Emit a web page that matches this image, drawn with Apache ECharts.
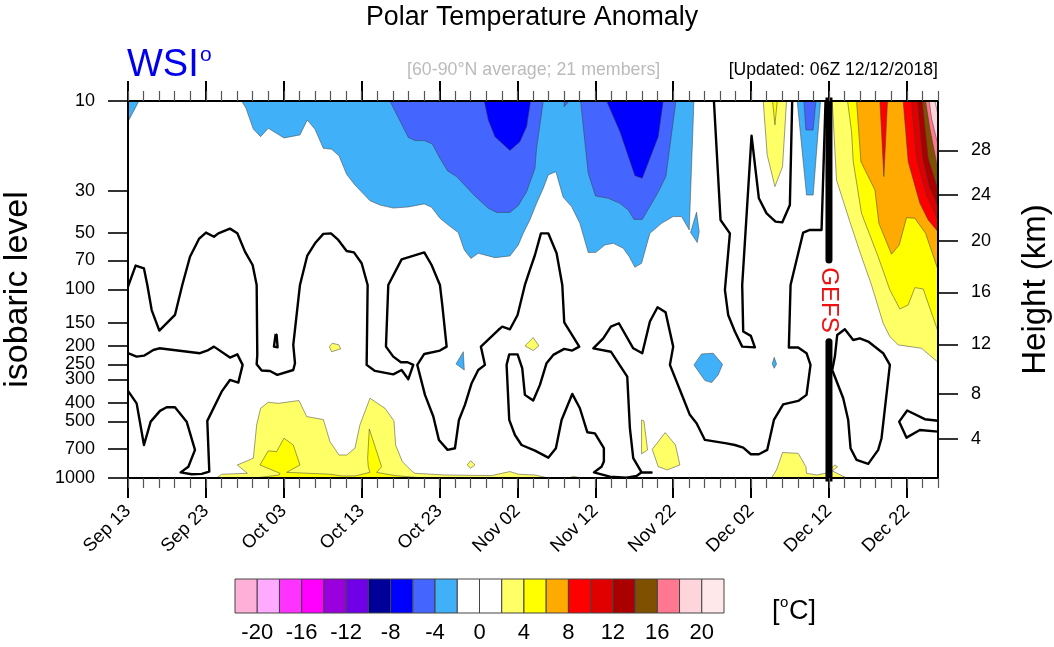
<!DOCTYPE html>
<html><head><meta charset="utf-8">
<style>html,body{margin:0;padding:0;background:#fff}#c{width:1054px;height:647px}</style>
<script src="https://cdn.jsdelivr.net/npm/echarts@6/dist/echarts.min.js"></script>
</head><body><div id="c"></div>
<script>
// x = days since Sep 13 2018, y = log10(pressure hPa)
const dayTicks = [0,10,20,30,40,50,60,70,80,90,100];
const dayTickLabels = ['Sep 13','Sep 23','Oct 03','Oct 13','Oct 23','Nov 02','Nov 12','Nov 22','Dec 02','Dec 12','Dec 22'];
const pressureLevels = [10,30,50,70,100,150,200,250,300,400,500,700,850,1000];
const heightKm = [28,24,20,16,12,8,4];
const heightHpa = [18.3,31.5,55.3,103.5,195.4,358,621];
const legendLows = [-22,-20,-18,-16,-14,-12,-10,-8,-6,-4,-2,0,2,4,6,8,10,12,14,16,18,20];
const legendColors = ['#ffb0d8','#ffaaff','#ff33ff','#ff00ff','#9900dd','#7000e8','#000099','#0000ff','#4466ff','#40b0f8','#ffffff','#ffffff','#ffff66','#ffff00','#ffaa00','#ff0000','#e00000','#aa0000','#7f5000','#ff7890','#ffd5dc','#ffe8ea'];
const legendLabels = [-20,-16,-12,-8,-4,0,4,8,12,16,20];

const coldEdge = [[0,1],[1.41,1],[0,1.110]];
const coldMain = [[14.59,1],[15.15,1.039],[16.09,1.149],[17.03,1.189],[18.01,1.145],[20.03,1.196],[22.08,1.180],[23.02,1.101],[24.01,1.150],[25.08,1.251],[26.14,1.256],[27.09,1.290],[28.07,1.389],[29.14,1.446],[31.07,1.529],[32.35,1.552],[34.06,1.568],[35.99,1.562],[38.04,1.546],[38.98,1.564],[40.05,1.622],[41.12,1.658],[42.40,1.698],[43.18,1.790],[44.03,1.835],[44.97,1.808],[47.11,1.831],[49.04,1.822],[50.11,1.764],[50.75,1.702],[51.60,1.631],[52.46,1.543],[53.32,1.463],[53.96,1.392],[54.94,1.375],[55.88,1.511],[56.95,1.560],[58.02,1.649],[59.09,1.804],[60.08,1.803],[61.23,1.764],[62.30,1.755],[63.59,1.781],[64.36,1.826],[65.08,1.882],[65.94,1.861],[67.01,1.702],[68.51,1.649],[70.0,1.613],[71.07,1.613],[72.06,1.684],[72.66,1]];
const coldFinger = [[73.0,1.590],[72.23,1.697],[73.09,1.751],[73.34,1.693]];
const coldDec = [[85.92,1],[87.12,1.499],[87.97,1.499],[88.92,1]];
const coldBlobOct = [[43.05,2.330],[42.11,2.395],[43.18,2.427]];
const coldBlobNov = [[73.64,2.342],[75.14,2.338],[76.34,2.397],[75.78,2.453],[74.93,2.494],[74.07,2.483],[72.66,2.400]];
const coldBlobDec = [[82.97,2.360],[82.71,2.395],[82.97,2.418],[83.27,2.395]];
const cool1 = [[33.63,1],[35.99,1.193],[36.84,1.210],[38.04,1.210],[39.07,1.228],[40.05,1.304],[41.04,1.371],[42.19,1.401],[44.54,1.504],[46.26,1.569],[47.33,1.591],[49.04,1.591],[50.11,1.555],[51.18,1.481],[52.25,1.357],[52.46,1.251],[53.32,1]];
const cool2 = [[58.11,1],[59.09,1.384],[60.03,1.504],[61.66,1.516],[63.16,1.543],[64.23,1.578],[64.96,1.628],[66.03,1.628],[67.99,1.490],[69.06,1.401],[70.35,1]];
const coolNotch = [[56.0,1],[56.0,1.03],[56.65,1]];
const coolDec = [[86.78,1],[87.04,1.154],[87.97,1.154],[88.32,1]];
const deep1 = [[45.74,1],[46.26,1.101],[47.11,1.189],[49.04,1.263],[50.32,1.216],[51.18,1.136],[51.69,1]];
const deep2 = [[61.45,1],[63.16,1.163],[65.08,1.396],[66.03,1.410],[68.08,1.189],[68.72,1]];
const warmAutumn = [[11.38,3],[12.02,2.980],[15.32,2.975],[14.04,2.931],[16.09,2.895],[16.52,2.718],[17.03,2.630],[18.01,2.598],[19.30,2.604],[21.95,2.589],[22.94,2.674],[25.08,2.690],[25.29,2.718],[25.93,2.807],[27.09,2.878],[28.07,2.878],[29.14,2.842],[29.78,2.718],[31.07,2.577],[32.99,2.630],[34.15,2.697],[34.36,2.825],[35.22,2.913],[36.50,2.966],[36.84,2.975],[40.69,2.984],[46.68,2.987],[49.04,2.966],[50.11,2.980],[52.25,2.984],[53.74,2.998],[53.74,3]];
const warmDot1 = [[26.23,2.285],[27.09,2.294],[27.30,2.315],[26.14,2.330],[25.85,2.303]];
const warmDot2 = [[52.03,2.255],[52.76,2.299],[52.03,2.324],[50.96,2.299]];
const warmDot3 = [[43.99,2.908],[44.54,2.931],[43.99,2.948],[43.56,2.931]];
const warmDot4 = [[56.53,3],[57.17,2.991],[58.24,3]];
const warmSliver = [[65.94,2.692],[66.24,2.697],[66.71,2.851],[65.94,2.872]];
const warmPatch = [[68.98,2.759],[70.30,2.825],[70.86,2.931],[69.23,2.957],[68.08,2.940],[67.31,2.848]];
const warmDecTop = [[81.56,1],[82.07,1.286],[83.06,1.454],[84.04,1.348],[84.55,1]];
const warmDecLow = [[82.63,3],[83.27,2.957],[84.04,2.865],[86.05,2.869],[87.04,2.940],[87.12,2.975],[88.40,2.984],[89.56,2.975],[90.76,2.931],[91.10,2.940],[90.42,2.962],[92.25,3]];
const warmRight = [[90.42,1],[90.97,1.419],[92.68,1.640],[94.18,1.826],[95.46,1.976],[96.96,2.179],[97.82,2.250],[98.89,2.294],[101.88,2.312],[104,2.386],[104,1]];
const hotAutumn = [[16.30,3],[19.43,2.984],[19.51,2.975],[16.94,2.931],[18.01,2.856],[19.08,2.860],[20.03,2.789],[21.22,2.825],[22.08,2.931],[20.37,2.970],[25.93,2.980],[27.43,2.989],[29.14,2.989],[31.07,2.970],[30.85,2.940],[30.77,2.895],[30.98,2.740],[32.56,2.940],[31.92,2.970],[34.27,2.987],[37.91,3]];
const hotDecTop = [[82.76,1],[83.06,1.127],[83.36,1]];
const hotRight = [[92.39,1],[92.90,1.163],[93.12,1.322],[94.18,1.596],[96.32,1.826],[97.82,2.002],[99.10,2.103],[100.17,2.082],[101.03,1.990],[102.10,1.997],[104,2.223],[104,1]];
const orangeRight = [[93.54,1],[94.10,1.322],[95.90,1.472],[96.41,1.649],[98.03,1.813],[99.02,1.764],[99.96,1.619],[101.03,1.622],[102.40,1.702],[104,1.896],[104,1]];
const redSpike = [[96.54,1],[97.05,1.401],[97.52,1]];
const redRight = [[99.53,1],[100.17,1.322],[101.67,1.543],[102.74,1.631],[104,1.693],[104,1]];
const red10 = [[100.6,1],[101.24,1.304],[102.52,1.499],[104,1.631],[104,1]];
const red12 = [[101.37,1],[102.01,1.304],[102.95,1.463],[104,1.560],[104,1]];
const brown14 = [[101.97,1],[102.74,1.304],[104,1.472],[104,1]];
const pink16 = [[102.40,1],[102.95,1.145],[104,1.366],[104,1]];
const pink18 = [[102.87,1],[103.17,1.092],[104,1.233],[104,1]];
const pink20 = [[103.60,1],[104,1.074],[104,1]];

const zeroMain = [[0,1.985],[0.98,1.873],[2.05,1.888],[2.48,1.976],[3.04,2.109],[4.02,2.218],[6.03,2.135],[6.97,1.976],[7.96,1.826],[9.11,1.732],[10.01,1.698],[11.04,1.720],[11.60,1.702],[13.09,1.677],[14.04,1.702],[15.02,1.799],[16.00,1.870],[16.52,1.976],[16.60,2.347],[16.52,2.397],[17.16,2.430],[18.23,2.432],[19.17,2.453],[21.22,2.427],[21.44,2.391],[21.22,2.294],[22.08,1.976],[23.02,1.820],[24.01,1.755],[25.08,1.705],[26.06,1.702],[27.00,1.737],[28.07,1.796],[29.01,1.803],[30.00,1.861],[30.77,1.976],[30.64,2.400],[31.71,2.432],[34.06,2.450],[35.13,2.427],[35.99,2.476],[36.63,2.400],[35.90,2.386],[35.04,2.386],[34.06,2.356],[33.12,2.303],[33.42,1.976],[35.13,1.840],[38.04,1.803],[38.98,1.870],[40.05,1.976],[40.35,2.082],[40.91,2.303],[40.05,2.324],[38.04,2.342],[37.14,2.400],[38.13,2.559],[39.20,2.674],[39.92,2.798],[41.04,2.851],[41.98,2.842],[42.49,2.692],[43.26,2.612],[44.12,2.497],[44.97,2.427],[45.83,2.400],[45.31,2.303],[47.54,2.215],[48.05,2.197],[49.04,2.211],[50.02,2.135],[50.96,1.976],[51.60,1.896],[52.25,1.817],[53.02,1.702],[53.96,1.702],[55.03,1.808],[55.76,1.976],[56.01,2.174],[57.94,2.303],[57.04,2.324],[56.01,2.315],[54.60,2.347],[53.74,2.391],[52.89,2.506],[52.03,2.589],[51.60,2.577],[50.96,2.559],[50.62,2.418],[50.02,2.344],[48.95,2.344],[48.61,2.400],[48.95,2.692],[49.68,2.772],[50.53,2.825],[52.25,2.855],[53.96,2.892],[54.94,2.842],[55.67,2.692],[57.04,2.554],[58.02,2.630],[58.97,2.757],[59.95,2.763],[61.10,2.842],[61.10,2.913],[60.80,2.940],[59.82,2.970],[61.87,2.993],[64.01,2.998],[65.30,2.989],[65.94,2.970],[67.22,2.971],[65.94,2.970],[64.87,2.895],[64.44,2.736],[64.10,2.462],[62.00,2.330],[59.74,2.312],[59.61,2.303],[61.02,2.259],[62.00,2.197],[63.03,2.179],[64.87,2.312],[66.03,2.338],[67.01,2.170],[67.99,2.094],[69.02,2.121],[70.00,2.303],[69.58,2.400],[71.29,2.577],[72.14,2.665],[73.00,2.710],[74.07,2.798],[76.85,2.816],[77.92,2.825],[78.99,2.839],[79.97,2.874],[81.00,2.874],[82.07,2.851],[82.93,2.692],[84.12,2.609],[86.05,2.591],[87.12,2.559],[87.63,2.400],[87.12,2.338],[86.05,2.308],[84.85,2.308],[85.07,1.976],[86.69,1.698],[87.55,1.684],[89.05,1.684],[89.56,1]];
const zeroLowLeft = [[0,2.338],[1.11,2.356],[2.05,2.351],[3.25,2.321],[4.02,2.312],[9.24,2.338],[10.31,2.321],[11.04,2.303],[13.09,2.361],[14.04,2.344],[14.72,2.400],[14.16,2.494],[13.09,2.480],[12.02,2.542],[10.18,2.697],[10.44,2.966],[9.46,2.978],[8.17,2.980],[6.76,2.970],[7.75,2.940],[8.60,2.851],[7.53,2.701],[6.03,2.625],[4.96,2.625],[4.11,2.644],[2.91,2.701],[2.05,2.825],[1.11,2.604],[0,2.538]];
const zeroDrop = [[18.96,2.236],[18.74,2.303],[18.96,2.312],[19.21,2.307],[19.08,2.241],[18.96,2.236]];
const zeroDec = [[75.23,1],[76.08,1.631],[77.28,1.702],[76.64,2.002],[77.06,2.135],[77.92,2.223],[78.86,2.303],[80.49,2.307],[79.97,2.246],[78.99,2.223],[78.86,1.976],[80.06,1.184],[81.00,1.516],[81.99,1.596],[83.14,1.640],[84.0,1.644],[84.98,1.552],[85.28,1]];
const zeroLoop = [[90.42,2.427],[90.76,2.356],[91.06,2.241],[92.04,2.211],[93.11,2.268],[93.97,2.259],[95.04,2.276],[96.96,2.338],[97.82,2.400],[96.75,2.789],[96.32,2.851],[95.04,2.925],[93.54,2.904],[92.77,2.842],[92.47,2.692],[91.83,2.577],[90.42,2.427]];
const zeroEnd = [[104,2.696],[102.31,2.688],[100.04,2.642],[99.02,2.701],[99.96,2.786],[101.67,2.745],[104,2.754]];
const gefsTop = [[90,0.9],[90,1.843]];
const gefsBottom = [[90,2.277],[90,3.1]];

const band = lo => legendColors[legendLows.indexOf(lo)];
const fills = [
  [-4,coldEdge],[-4,coldMain],[-4,coldFinger],[-4,coldDec],[-4,coldBlobOct],[-4,coldBlobNov],[-4,coldBlobDec],
  [-6,cool1],[-6,cool2],[-6,coolNotch],[-6,coolDec],[-8,deep1],[-8,deep2],
  [2,warmAutumn],[2,warmDot1],[2,warmDot2],[2,warmDot3],[2,warmDot4],[2,warmSliver],[2,warmPatch],[2,warmDecTop],[2,warmDecLow],[2,warmRight],
  [4,hotAutumn],[4,hotDecTop],[4,hotRight],[6,orangeRight],[8,redSpike],[8,redRight],[10,red10],[12,red12],[14,brown14],[16,pink16],[18,pink18],[20,pink20]
];
const zeroLines = [zeroMain,zeroLowLeft,zeroDrop,zeroDec,zeroLoop,zeroEnd];

const FONT = '"Liberation Sans", Arial, sans-serif';
const lg = v => Math.log10(v);
const txt = (text,x,y,size,fill,extra) => ({type:'text',z:20,silent:true,x,y,style:Object.assign({text,fontSize:size,fontFamily:FONT,fill,textAlign:'left',textVerticalAlign:'middle'},extra||{})});
const baseX = {type:'value',gridIndex:0,min:0,max:104,splitLine:{show:false},z:10,
  axisLine:{onZero:false,lineStyle:{color:'#000',width:2}},axisLabel:{show:false}};
const yBase = {type:'value',gridIndex:0,min:1,max:3,inverse:true,splitLine:{show:false},z:10,
  axisLine:{onZero:false,lineStyle:{color:'#000',width:2}}};
const majorTick = {show:true,length:20,customValues:dayTicks,lineStyle:{color:'#000',width:2}};
const minorTick = {show:true,length:10,lineStyle:{color:'#555',width:1.2}};

const chart = echarts.init(document.getElementById('c'),null,{renderer:'canvas'});
chart.setOption({
  animation:false,backgroundColor:'#fff',
  textStyle:{fontFamily:FONT},
  grid:[{left:128,top:101,width:810,height:377,outerBoundsMode:'none'},{left:235,top:579,width:489,height:34,outerBoundsMode:'none'}],
  xAxis:[
    Object.assign({},baseX,{position:'bottom',axisTick:majorTick,
      axisLabel:{show:true,customValues:dayTicks,rotate:45,margin:30,fontSize:18.5,color:'#000',fontFamily:FONT,
        formatter:v=>dayTickLabels[dayTicks.indexOf(v)]}}),
    Object.assign({},baseX,{position:'bottom',interval:2,axisTick:minorTick}),
    Object.assign({},baseX,{position:'top',axisTick:majorTick}),
    Object.assign({},baseX,{position:'top',interval:2,axisTick:minorTick}),
    {type:'value',gridIndex:1,min:-22,max:22,position:'bottom',splitLine:{show:false},
      axisLine:{show:false},axisTick:{show:false},
      axisLabel:{customValues:legendLabels,margin:9,fontSize:22,color:'#000',fontFamily:FONT,formatter:v=>String(v)}}
  ],
  yAxis:[
    Object.assign({},yBase,{position:'left',
      name:'isobaric level',nameLocation:'middle',nameGap:93,nameRotate:90,
      nameTextStyle:{fontSize:34,color:'#000',fontFamily:FONT},
      axisTick:{show:true,length:20,customValues:pressureLevels.map(lg),lineStyle:{color:'#000',width:1.6}},
      axisLabel:{customValues:pressureLevels.map(lg),margin:33,fontSize:18,color:'#000',fontFamily:FONT,hideOverlap:false,showMinLabel:true,showMaxLabel:true,
        formatter:v=>String(Math.round(Math.pow(10,v)))}}),
    Object.assign({},yBase,{position:'right',
      name:'Height (km)',nameLocation:'middle',nameGap:81,nameRotate:90,
      nameTextStyle:{fontSize:33,color:'#000',fontFamily:FONT},
      axisTick:{show:true,length:20,customValues:heightHpa.map(lg),lineStyle:{color:'#000',width:1.6}},
      axisLabel:{customValues:heightHpa.map(lg),margin:33,fontSize:18,color:'#000',fontFamily:FONT,
        formatter:v=>{let b=0;heightHpa.forEach((h,i)=>{if(Math.abs(lg(h)-v)<Math.abs(lg(heightHpa[b])-v))b=i;});return String(heightKm[b]);}}}),
    {type:'value',gridIndex:1,min:0,max:1,show:false}
  ],
  series:[
    {type:'custom',xAxisIndex:0,yAxisIndex:0,z:2,silent:true,clip:true,
      data:fills.map((f,i)=>[i,0]),
      renderItem:(p,api)=>{
        const f=fills[api.value(0)];
        return {type:'polygon',shape:{points:f[1].map(q=>api.coord(q))},
          style:{fill:band(f[0]),stroke:'#3a3a3a',lineWidth:0.5}};
      }},
    ...zeroLines.map(l=>({type:'line',xAxisIndex:0,yAxisIndex:0,data:l,symbol:'none',silent:true,z:3,clip:true,
      lineStyle:{color:'#000',width:2.4,join:'round'}})),
    ...[gefsTop,gefsBottom].map(l=>({type:'line',xAxisIndex:0,yAxisIndex:0,data:l,symbol:'none',silent:true,z:4,clip:true,
      lineStyle:{color:'#000',width:7,cap:'round'}})),
    {type:'custom',xAxisIndex:4,yAxisIndex:2,silent:true,clip:false,
      data:legendLows.map(v=>[v,0]),
      renderItem:(p,api)=>{
        const lo=api.value(0),a=api.coord([lo,1]),b=api.coord([lo+2,0]);
        return {type:'rect',shape:{x:a[0],y:a[1],width:b[0]-a[0],height:b[1]-a[1]},
          style:{fill:band(lo),stroke:'#444',lineWidth:1}};
      }}
  ],
  graphic:[
    txt('Polar Temperature Anomaly',532,18,26.8,'#000',{textAlign:'center'}),
    txt('WSI',127,66,38,'#0000ee'),
    txt('o',200,55,21,'#0000ee'),
    txt('[60-90°N average; 21 members]',407,70,17.8,'#bbbbbb'),
    txt('[Updated: 06Z 12/12/2018]',938,70,17.6,'#000',{textAlign:'right'}),
    {type:'text',z:20,silent:true,x:829,y:300,rotation:-Math.PI/2,
      style:{text:'GEFS',fontSize:24,fontFamily:FONT,fill:'#ee1111',textAlign:'center',textVerticalAlign:'middle'}},
    txt('[',772,612,27,'#000'),
    txt('o',780,603,15,'#000'),
    txt('C]',789,612,27,'#000')
  ]
});
</script></body></html>
